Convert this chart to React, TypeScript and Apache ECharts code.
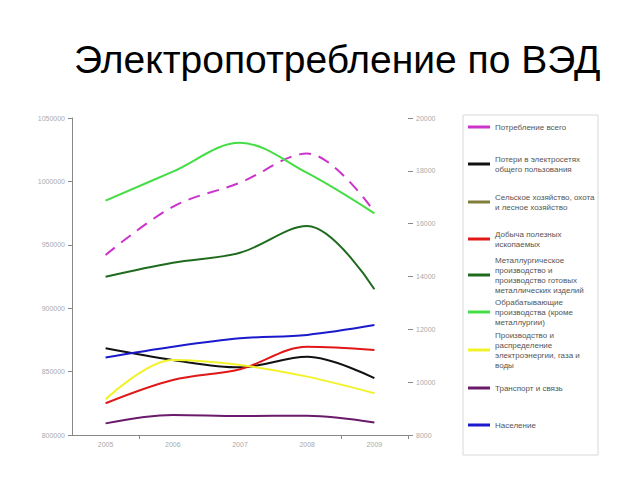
import React, { useEffect, useRef } from "react";
import * as echarts from "echarts";

const years = ["2005", "2006", "2007", "2008", "2009"];

const seriesNames = [
  "Потребление всего",
  "Потери в электросетях общего пользования",
  "Сельское хозяйство, охота и лесное хозяйство",
  "Добыча полезных ископаемых",
  "Металлургическое производство и производство готовых металлических изделий",
  "Обрабатывающие производства (кроме металлургии)",
  "Производство и распределение электроэнергии, газа и воды",
  "Транспорт и связь",
  "Население",
];

const legendLabels = [
  "Потребление всего",
  "Потери в электросетях\nобщего пользования",
  "Сельское хозяйство, охота\nи лесное хозяйство",
  "Добыча полезных\nископаемых",
  "Металлургическое\nпроизводство и\nпроизводство готовых\nметаллических изделий",
  "Обрабатывающие\nпроизводства (кроме\nметаллургии)",
  "Производство и\nраспределение\nэлектроэнергии, газа и\nводы",
  "Транспорт и связь",
  "Население",
];

const seriesColors = [
  "#cc33cc",
  "#111111",
  "#7f7f3a",
  "#e01818",
  "#1e6b1e",
  "#44dd44",
  "#f2f22a",
  "#6a1a6a",
  "#1a1acc",
];

// left axis values
const totalConsumption = [942000, 980000, 999000, 1022000, 976000];
// right axis values
const gridLosses = [11280, 10840, 10560, 10960, 10150];
const agriculture = [1000, 1000, 1000, 1000, 1000];
const mining = [9200, 10080, 10490, 11340, 11220];
const metallurgy = [13990, 14520, 14900, 15910, 13520];
const manufacturing = [16870, 17970, 19060, 17920, 16390];
const energyProduction = [9350, 10840, 10650, 10210, 9580];
const transport = [8440, 8760, 8720, 8730, 8470];
const population = [10930, 11340, 11660, 11790, 12160];

const seriesData = [
  totalConsumption,
  gridLosses,
  agriculture,
  mining,
  metallurgy,
  manufacturing,
  energyProduction,
  transport,
  population,
];

const leftTicks = { min: 800000, max: 1050000, interval: 50000 };
const rightTicks = { min: 8000, max: 20000, interval: 2000 };

const legendIconY = [127, 164, 202, 239, 275, 312, 350, 388, 425];

export default function App() {
  const ref = useRef<HTMLDivElement>(null);
  useEffect(() => {
    if (!ref.current) return;
    const chart = echarts.init(ref.current, null, { renderer: "svg" });
    const LH = 10;
    const legends = legendLabels.map((lbl, i) => {
      const n = lbl.split("\n").length;
      return {
        data: [seriesNames[i]],
        left: 468,
        top: legendIconY[i] - ((2 * n - 1) * LH) / 2,
        orient: "vertical",
        padding: 0,
        icon: "rect",
        itemWidth: 22,
        itemHeight: 3,
        itemGap: 0,
        selectedMode: false,
        formatter: () => lbl,
        textStyle: {
          fontSize: 8,
          lineHeight: LH,
          color: "#555",
          fontFamily: "Liberation Sans",
          padding: [(n - 1) * LH, 0, 0, 0],
        },
      };
    });
    chart.setOption({
      animation: false,
      backgroundColor: "#ffffff",
      title: {
        text: "Электропотребление по ВЭД",
        left: 69,
        top: 35,
        textStyle: {
          fontFamily: "Liberation Sans",
          fontSize: 39,
          fontWeight: "normal",
          color: "#000",
        },
      },
      graphic: [
        {
          type: "rect",
          shape: { x: 463, y: 115, width: 135, height: 340 },
          style: { fill: "none", stroke: "#d8d8d8", lineWidth: 1 },
          silent: true,
        },
      ],
      legend: legends,
      grid: { left: 72, right: 232, top: 118, bottom: 45 },
      xAxis: {
        type: "category",
        data: years,
        boundaryGap: true,
        axisLine: { lineStyle: { color: "#888", width: 1 } },
        axisTick: {
          show: true,
          length: 4,
          interval: (i: number) => i === 1 || i === 4,
          lineStyle: { color: "#888" },
        },
        axisLabel: {
          color: "#aaa",
          fontSize: 7,
          margin: 6,
          fontFamily: "Liberation Sans",
        },
      },
      yAxis: [
        {
          type: "value",
          min: leftTicks.min,
          max: leftTicks.max,
          interval: leftTicks.interval,
          axisLine: { show: true, lineStyle: { color: "#888" } },
          axisTick: { show: true, length: 4, lineStyle: { color: "#888" } },
          splitLine: { show: false },
          axisLabel: {
            color: "#aaa",
            fontSize: 7,
            margin: 7,
            fontFamily: "Liberation Sans",
            formatter: (v: number) => String(v),
          },
        },
        {
          type: "value",
          position: "right",
          min: rightTicks.min,
          max: rightTicks.max,
          interval: rightTicks.interval,
          axisLine: { show: false },
          axisTick: { show: true, length: 5, lineStyle: { color: "#888" } },
          splitLine: { show: false },
          axisLabel: {
            color: "#aaa",
            fontSize: 7,
            margin: 8,
            fontFamily: "Liberation Sans",
            formatter: (v: number) => String(v),
          },
        },
      ],
      series: seriesNames.map((name, i) => ({
        name,
        type: "line",
        yAxisIndex: i === 0 ? 0 : 1,
        data: seriesData[i],
        smooth: 0.35,
        symbol: "none",
        clip: true,
        color: seriesColors[i],
        lineStyle: {
          color: seriesColors[i],
          width: 2,
          type: i === 0 ? [12, 8] : "solid",
        },
      })),
    });
    return () => chart.dispose();
  }, []);
  return (
    <div
      ref={ref}
      style={{ position: "fixed", left: 0, top: 0, width: 640, height: 480 }}
    />
  );
}
